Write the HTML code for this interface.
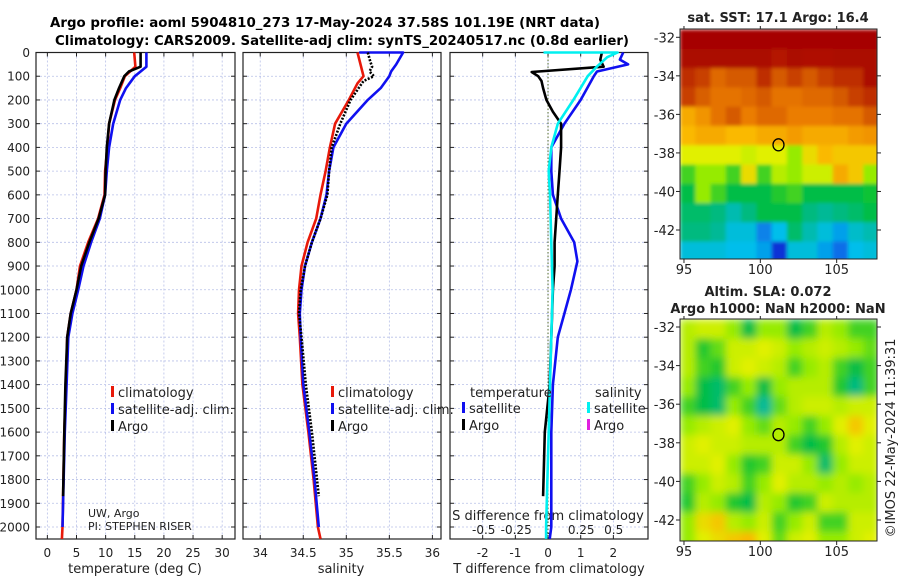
<!DOCTYPE html>
<html><head><meta charset="utf-8"><style>
html,body{margin:0;padding:0;background:#fff}
svg{display:block;font-family:"DejaVu Sans","Liberation Sans",sans-serif}
</style></head><body>
<svg id="fig" width="900" height="580" viewBox="0 0 900 580" xmlns="http://www.w3.org/2000/svg">
<defs>
<filter id="blurSST" x="-5%" y="-5%" width="110%" height="110%"><feGaussianBlur stdDeviation="1.8"/></filter>
<filter id="blurSLA" x="-5%" y="-5%" width="110%" height="110%"><feGaussianBlur stdDeviation="4"/></filter>
</defs>
<text x="325" y="27" text-anchor="middle" font-weight="bold" font-size="13" textLength="550" lengthAdjust="spacingAndGlyphs">Argo profile: aoml 5904810_273 17-May-2024 37.58S 101.19E (NRT data)</text>
<text x="342" y="45" text-anchor="middle" font-weight="bold" font-size="13" textLength="574" lengthAdjust="spacingAndGlyphs">Climatology: CARS2009. Satellite-adj clim: synTS_20240517.nc (0.8d earlier)</text>
<g id="plots"></g>
</svg>
<script>
// ---------- profile data ----------
const tClimDepth=[0,60,80,100,150,200,300,400,500,600,700,800,900,1000,1100,1200,1400,1600,2000,2050];
const tClimVal=[14.9,15.1,14.2,13.3,12.5,11.6,10.6,10.3,9.9,9.8,8.7,7.0,5.6,5.0,4.0,3.4,3.2,2.9,2.6,2.5];
const tArgoDepth=[0,60,80,100,150,200,300,400,500,600,700,800,900,1000,1100,1200,1400,1600,1870];
const tArgoVal=[16.0,16.0,14.0,13.2,12.3,11.5,10.6,10.2,10.0,9.9,8.8,7.2,5.8,5.0,4.0,3.4,3.1,2.9,2.7];
const tSatDepth=[0,60,90,100,150,200,300,400,500,600,700,800,900,1000,1100,1200,1400,1600,2000];
const tSatVal=[17.0,17.0,15.5,15.0,13.5,12.5,11.3,10.6,10.2,9.9,9.0,7.5,6.2,5.3,4.3,3.6,3.3,3.0,2.6];

const sClimDepth=[0,100,130,200,300,400,500,600,700,800,900,1000,1100,1200,1400,1600,1800,2000,2050];
const sClimVal=[35.13,35.2,35.13,35.03,34.87,34.81,34.76,34.7,34.65,34.55,34.48,34.45,34.44,34.46,34.49,34.56,34.62,34.67,34.7];
const sArgoDepth=[0,40,60,80,100,120,200,300,400,500,600,700,800,900,1000,1100,1200,1400,1600,1870];
const sArgoVal=[35.25,35.28,35.3,35.27,35.32,35.2,35.05,34.93,34.83,34.8,34.78,34.7,34.6,34.52,34.47,34.45,34.48,34.53,34.6,34.68];
const sSatDepth=[0,0,50,80,100,150,200,300,400,500,600,700,800,900,1000,1100,1200,1400,1600,1800,2000];
const sSatVal=[35.15,35.66,35.58,35.52,35.5,35.4,35.25,35.0,34.85,34.8,34.77,34.7,34.6,34.52,34.48,34.46,34.47,34.5,34.57,34.63,34.68];

const dTArgoDepth=[0,30,60,82,100,120,150,200,250,300,400,500,600,700,800,900,1000,1200,1400,1600,1870];
const dTArgoVal=[1.65,1.6,1.7,-0.5,-0.3,-0.2,-0.15,-0.05,0.15,0.4,0.4,0.35,0.3,0.25,0.2,0.2,0.15,0.1,0.05,-0.1,-0.15];
const dTSatDepth=[0,30,50,80,100,200,300,400,500,600,700,800,880,1000,1100,1200,1400,1600,2000,2050];
const dTSatVal=[2.3,2.2,2.45,1.5,1.4,1.0,0.5,0.1,0.1,0.15,0.4,0.8,0.9,0.7,0.5,0.3,0.15,0.1,0.1,0.05];
const dSSatDepth=[0,0,20,60,100,200,300,400,500,600,800,1000,1200,1600,2000,2050];
const dSSatVal=[-0.04,0.53,0.45,0.37,0.3,0.19,0.07,0.02,0.0,0.01,0.02,0.03,0.02,0.0,-0.02,-0.02];

const depthTicks=[0,100,200,300,400,500,600,700,800,900,1000,1100,1200,1300,1400,1500,1600,1700,1800,1900,2000];
const tTicks=[0,5,10,15,20,25,30];
const sTicks=[34,34.5,35,35.5,36];
const sTickLabels=["34","34.5","35","35.5","36"];
const dTTicks=[-2,-1,0,1,2];
const dSTicks=[-0.5,-0.25,0,0.25,0.5];
const dSTickLabels=["-0.5","-0.25","0","0.25","0.5"];

// ---------- map data ----------
const lonTicks=[95,100,105];
const latTicks=[-32,-34,-36,-38,-40,-42];
const cellLon0=94.74, cellLat0=-31.6;
const sstGrid=[
[.97,.97,.97,.97,.97,.97,.97,.97,.97,.97,.97,.97,.97],
[.95,.95,.95,.95,.95,.95,.92,.95,.93,.93,.95,.95,.95],
[.9,.88,.82,.85,.85,.9,.85,.88,.85,.88,.9,.9,.95],
[.88,.84,.8,.8,.82,.85,.8,.8,.82,.82,.85,.88,.9],
[.72,.75,.8,.85,.78,.82,.82,.78,.78,.78,.8,.8,.85],
[.7,.72,.72,.7,.7,.72,.72,.74,.72,.72,.72,.74,.75],
[.62,.62,.62,.62,.6,.62,.62,.55,.65,.7,.68,.68,.68],
[.5,.55,.55,.5,.65,.5,.58,.55,.6,.6,.72,.68,.55],
[.45,.55,.5,.45,.45,.45,.48,.5,.45,.45,.45,.45,.47],
[.42,.42,.4,.35,.4,.45,.45,.45,.4,.38,.4,.42,.45],
[.4,.4,.38,.3,.3,.22,.28,.42,.35,.3,.25,.32,.35],
[.3,.3,.3,.28,.28,.25,.12,.3,.3,.25,.2,.28,.3]];
const slaGrid=[
[.58,.6,.6,.55,.45,.55,.55,.45,.5,.58,.55,.5,.5],
[.58,.48,.52,.6,.6,.62,.6,.55,.58,.6,.58,.55,.52],
[.58,.5,.48,.6,.62,.6,.58,.5,.55,.58,.5,.45,.5],
[.55,.45,.42,.5,.55,.45,.55,.58,.58,.58,.48,.4,.5],
[.5,.45,.42,.55,.5,.38,.52,.58,.6,.6,.58,.6,.6],
[.55,.58,.6,.62,.55,.52,.58,.55,.5,.55,.62,.68,.62],
[.6,.62,.6,.6,.58,.58,.58,.5,.45,.48,.58,.62,.6],
[.6,.6,.62,.55,.48,.5,.6,.6,.55,.42,.55,.6,.6],
[.5,.55,.6,.58,.5,.55,.62,.58,.58,.55,.58,.55,.58],
[.48,.58,.55,.48,.45,.58,.55,.48,.5,.6,.58,.58,.58],
[.55,.65,.68,.58,.55,.6,.5,.55,.6,.5,.5,.6,.6],
[.55,.62,.65,.68,.7,.62,.52,.6,.62,.55,.55,.6,.62]];
const argoLon=101.19, argoLat=-37.58;

const NS="http://www.w3.org/2000/svg";
const root=document.getElementById('plots');
function el(tag,attrs,parent){const e=document.createElementNS(NS,tag);for(const k in attrs)e.setAttribute(k,attrs[k]);(parent||root).appendChild(e);return e;}
function txt(x,y,s,size,anchor,parent){const t=el('text',{x:x,y:y,'font-size':size,'text-anchor':anchor||'middle',fill:'#222'},parent);t.textContent=s;return t;}

const plotTop=52.5, pxPerM=0.23725, plotBottom=539;
const yD=d=>plotTop+d*pxPerM;
const panels=[
 {name:'temperature',x0:36,x1:235,v0:-1.95,v1:32.2},
 {name:'salinity',x0:243,x1:441,v0:33.8,v1:36.1},
 {name:'difference',x0:450,x1:648,v0:-3.0,v1:3.06}
];
function sx(p,v){return p.x0+(v-p.v0)/(p.v1-p.v0)*(p.x1-p.x0);}
const pT=panels[0],pS=panels[1],pD=panels[2];
const xdS=v=>548.7+v*130;

panels.forEach((p,i)=>{
  const g=el('g',{});
  
  
  const ticks=i==0?tTicks:i==1?sTicks:dTTicks;
  ticks.forEach(t=>{const gl=el('line',{x1:sx(p,t),x2:sx(p,t),y1:plotTop,y2:plotBottom,stroke:'#b8c0e8','stroke-width':0.8,'stroke-dasharray':'2,2'},g);
    
    el('line',{x1:sx(p,t),x2:sx(p,t),y1:plotBottom,y2:plotBottom-4,stroke:'#222'},g);
    el('line',{x1:sx(p,t),x2:sx(p,t),y1:plotTop,y2:plotTop+4,stroke:'#222'},g);});
  depthTicks.forEach(d=>{const gl=el('line',{x1:p.x0,x2:p.x1,y1:yD(d),y2:yD(d),stroke:'#b8c0e8','stroke-width':0.8,'stroke-dasharray':'2,2'},g);
    
    el('line',{x1:p.x0,x2:p.x0+4,y1:yD(d),y2:yD(d),stroke:'#222'},g);
    el('line',{x1:p.x1,x2:p.x1-4,y1:yD(d),y2:yD(d),stroke:'#222'},g);});
  const fr=el('rect',{x:p.x0,y:plotTop,width:p.x1-p.x0,height:plotBottom-plotTop,fill:'none',stroke:'#222','stroke-width':1.2},g);
  
});
depthTicks.forEach(d=>{const t=txt(30,yD(d)+4.5,String(d),12,'end');
  });
tTicks.forEach(v=>{const t=txt(sx(pT,v),557,String(v),12);});
sTicks.forEach((v,i)=>{const t=txt(sx(pS,v),557,sTickLabels[i],12);});
dTTicks.forEach(v=>{const t=txt(sx(pD,v),557,String(v),12);});
dSTicks.forEach((v,i)=>{const t=txt(xdS(v),534,dSTickLabels[i],12);});
let a=txt(135,573,'temperature (deg C)',13);
a=txt(341,573,'salinity',13);
a=txt(549,573,'T difference from climatology',13);
a=txt(548,520,'S difference from climatology',13);
a=txt(88,517,'UW, Argo',11,'start');
a=txt(88,530,'PI: STEPHEN RISER',11,'start');

const zl=el('line',{x1:sx(pD,0),x2:sx(pD,0),y1:plotTop,y2:plotBottom,stroke:'#556b2f','stroke-width':1,'stroke-dasharray':'1.5,2'});


function line(depths,vals,xf,color,name,dash,w){
  const pts=depths.map((d,i)=>xf(vals[i]).toFixed(1)+','+yD(d).toFixed(1)).join(' ');
  const attrs={points:pts,fill:'none',stroke:color,'stroke-width':w||2.6,'stroke-linejoin':'round'};
  if(dash)attrs['stroke-dasharray']=dash;
  const e=el('polyline',attrs);
  
  
}
line(tClimDepth,tClimVal,v=>sx(pT,v),'#e8190a','temperature-climatology-line');
line(tSatDepth,tSatVal,v=>sx(pT,v),'#1010f0','temperature-satellite-line');
line(tArgoDepth,tArgoVal,v=>sx(pT,v),'#000','temperature-argo-line');
line(sClimDepth,sClimVal,v=>sx(pS,v),'#e8190a','salinity-climatology-line');
line(sSatDepth,sSatVal,v=>sx(pS,v),'#1010f0','salinity-satellite-line');
line(sArgoDepth,sArgoVal,v=>sx(pS,v),'#000','salinity-argo-line','2,1.5',2.6);
line(dTSatDepth,dTSatVal,v=>sx(pD,v),'#1010f0','t-difference-satellite-line');
line(dTArgoDepth,dTArgoVal,v=>sx(pD,v),'#000','t-difference-argo-line');
line(dSSatDepth,dSSatVal,xdS,'#00f0f0','s-difference-satellite-line');

function legend(x,y,color,label,name){
  const m=el('rect',{x:x,y:y-12,width:3,height:11,fill:color});
  
  const t=txt(x+7,y-1,label,13,'start');
  
}
legend(111,398,'#e8190a','climatology','legend-entry-climatology');
legend(111,415,'#1010f0','satellite-adj. clim.','legend-entry-satellite-adj');
legend(111,432,'#000','Argo','legend-entry-argo');
legend(331,398,'#e8190a','climatology','salinity-legend-climatology');
legend(331,415,'#1010f0','satellite-adj. clim.','salinity-legend-satellite-adj');
legend(331,432,'#000','Argo','salinity-legend-argo');
a=txt(470,397,'temperature',13,'start');
a=txt(595,397,'salinity',13,'start');
legend(462,414,'#1010f0','satellite','diff-legend-t-satellite');
legend(462,431,'#000','Argo','diff-legend-t-argo');
legend(587,414,'#00f0f0','satellite','diff-legend-s-satellite');
legend(587,431,'#e020e0','Argo','diff-legend-s-argo');

const stops=[[0,[0,0,150]],[.15,[20,60,230]],[.28,[0,190,235]],[.38,[0,185,150]],[.46,[0,190,60]],[.55,[150,235,0]],[.62,[225,240,0]],[.7,[250,185,0]],[.78,[235,125,0]],[.86,[210,85,0]],[.93,[175,15,0]],[1,[160,0,0]]];
function cmap(v){for(let i=1;i<stops.length;i++){if(v<=stops[i][0]){const [a0,c0]=stops[i-1],[a1,c1]=stops[i];const f=(v-a0)/(a1-a0);return 'rgb('+c0.map((c,k)=>Math.round(c+(c1[k]-c)*f)).join(',')+')';}}return 'rgb(160,0,0)';}

function drawMap(cfg){
  const g=el('g',{});
  
  
  const X=lon=>cfg.x0+(lon-cfg.lon0)*cfg.pxLon, Y=lat=>cfg.yRef+(-32-lat)*cfg.pxLat;
  const cp=el('clipPath',{id:cfg.name+'-clip'},g);
  el('rect',{x:cfg.x0,y:cfg.y0,width:cfg.x1-cfg.x0,height:cfg.y1-cfg.y0},cp);
  const clipG=el('g',{'clip-path':'url(#'+cfg.name+'-clip)'},g);
  const cg=el('g',{filter:'url(#'+cfg.blur+')'},clipG);
  cfg.grid.forEach((row,j)=>row.forEach((v,i)=>{
    const r=el('rect',{x:X(cellLon0+i).toFixed(1),y:Y(cellLat0-j).toFixed(1),width:(cfg.pxLon+0.6).toFixed(1),height:(cfg.pxLat+0.6).toFixed(1),fill:cmap(v)},cg);
    
    
  }));
  const fr=el('rect',{x:cfg.x0,y:cfg.y0,width:cfg.x1-cfg.x0,height:cfg.y1-cfg.y0,fill:'none',stroke:'#222','stroke-width':1},g);
  
  lonTicks.forEach(l=>{el('line',{x1:X(l),x2:X(l),y1:cfg.y1,y2:cfg.y1+4,stroke:'#222'},g);el('line',{x1:X(l),x2:X(l),y1:cfg.y0,y2:cfg.y0-3,stroke:'#222'},g);
    const t=txt(X(l),cfg.y1+15,String(l),13,'middle',g);});
  latTicks.forEach(l=>{el('line',{x1:cfg.x0,x2:cfg.x0-4,y1:Y(l),y2:Y(l),stroke:'#222'},g);el('line',{x1:cfg.x1,x2:cfg.x1+4,y1:Y(l),y2:Y(l),stroke:'#222'},g);
    const t=txt(cfg.x0-5,Y(l)+5,String(l),13,'end',g);});
  const c=el('ellipse',{cx:X(argoLon),cy:Y(argoLat),rx:5.5,ry:6,fill:'none',stroke:'#000','stroke-width':1.3},g);
  
}
drawMap({name:'sst-map',grid:sstGrid,blur:'blurSST',x0:680,x1:877,y0:29,y1:259,lon0:94.74,pxLon:15.27,yRef:37.3,pxLat:19.27});
drawMap({name:'sla-map',grid:slaGrid,blur:'blurSLA',x0:680,x1:877,y0:319,y1:541,lon0:94.74,pxLon:15.27,yRef:327,pxLat:19.3});
a=txt(778,22,'sat. SST: 17.1 Argo: 16.4',13);a.setAttribute('font-weight','bold');
a=txt(768,296,'Altim. SLA: 0.072',13);a.setAttribute('font-weight','bold');
a=txt(778,313,'Argo h1000: NaN h2000: NaN',13);a.setAttribute('font-weight','bold');
a=txt(0,0,'©IMOS 22-May-2024 11:39:31',13);a.setAttribute('transform','translate(895,438) rotate(-90)');
</script>
</body></html>
